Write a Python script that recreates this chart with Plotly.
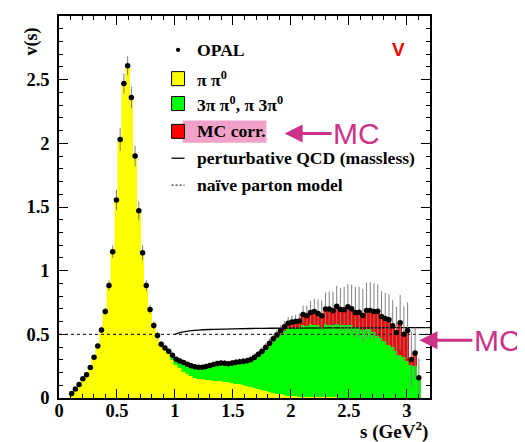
import numpy as np
import plotly.graph_objects as go

# ---------------- data ----------------
bin_start = 0.109   # first bin centre, GeV^2
bin_width = 0.0322  # GeV^2

opal_v = [0.036, 0.070, 0.107, 0.151, 0.182, 0.240, 0.320, 0.409, 0.534, 0.680,
          0.883, 1.148, 1.555, 2.03, 2.47, 2.61, 2.36, 1.90, 1.47, 1.14,
          0.883, 0.695, 0.570, 0.490, 0.422, 0.393, 0.367, 0.336, 0.305, 0.291,
          0.278, 0.265, 0.253, 0.246, 0.241, 0.241, 0.247, 0.255, 0.263, 0.270,
          0.275, 0.272, 0.268, 0.275, 0.281, 0.285, 0.289, 0.293, 0.303, 0.320,
          0.343, 0.368, 0.398, 0.430, 0.465, 0.497, 0.530, 0.560, 0.588, 0.597,
          0.600, 0.604, 0.656, 0.646, 0.672, 0.680, 0.664, 0.646, 0.698, 0.698,
          0.685, 0.721, 0.695, 0.693, 0.716, 0.700, 0.672, 0.674, 0.648, 0.688,
          0.688, 0.680, 0.682, 0.641, 0.625, 0.615, 0.568, 0.515, 0.590, 0.500,
          0.531, 0.302, 0.354, 0.160]

opal_err = [0.010, 0.010, 0.012, 0.012, 0.014, 0.015, 0.017, 0.020, 0.025, 0.030,
            0.040, 0.050, 0.080, 0.090, 0.080, 0.075, 0.085, 0.080, 0.075, 0.060,
            0.045, 0.035, 0.030, 0.030, 0.025, 0.025, 0.022, 0.022, 0.020, 0.020,
            0.020, 0.020, 0.020, 0.020, 0.020, 0.020, 0.021, 0.021, 0.022, 0.022,
            0.023, 0.023, 0.024, 0.024, 0.025, 0.025, 0.026, 0.027, 0.028, 0.030,
            0.030, 0.032, 0.034, 0.036, 0.038, 0.040, 0.042, 0.045, 0.048, 0.050,
            0.055, 0.060, 0.070, 0.080, 0.090, 0.100, 0.110, 0.120, 0.130, 0.140,
            0.150, 0.160, 0.170, 0.180, 0.180, 0.190, 0.200, 0.200, 0.210, 0.220,
            0.220, 0.220, 0.210, 0.200, 0.200, 0.200, 0.200, 0.200, 0.220, 0.220,
            0.220, 0.220, 0.200, 0.150]

pipi0_v = [0.036, 0.070, 0.107, 0.151, 0.182, 0.240, 0.320, 0.409, 0.534, 0.680,
           0.883, 1.148, 1.555, 2.03, 2.47, 2.61, 2.36, 1.90, 1.47, 1.14,
           0.883, 0.695, 0.570, 0.490, 0.422, 0.393, 0.345, 0.300, 0.262, 0.232,
           0.205, 0.185, 0.170, 0.160, 0.153, 0.148, 0.144, 0.140, 0.136, 0.133,
           0.130, 0.127, 0.123, 0.118, 0.113, 0.107, 0.100, 0.093, 0.086, 0.079,
           0.071, 0.063, 0.056, 0.049, 0.042, 0.035, 0.029, 0.024, 0.019, 0.015,
           0.012, 0.010, 0.009, 0.008, 0.007, 0.006, 0.006, 0.005, 0.005, 0.004,
           0.004, 0.004, 0.003, 0.003, 0.003, 0.003, 0.002, 0.002, 0.002, 0.002,
           0.002, 0.002, 0.002, 0.002, 0.002, 0.001, 0.001, 0.001, 0.001, 0.001,
           0.0, 0.0, 0.0, 0.0]

fourpi_v = [0.0] * 26 + [
           0.019, 0.033, 0.040, 0.055,
           0.069, 0.076, 0.079, 0.081, 0.083, 0.088, 0.096, 0.107, 0.118, 0.127,
           0.134, 0.135, 0.133, 0.144, 0.155, 0.163, 0.174, 0.184, 0.201, 0.223,
           0.254, 0.287, 0.322, 0.361, 0.403, 0.440, 0.476, 0.506, 0.531, 0.535,
           0.536, 0.540, 0.566, 0.557, 0.573, 0.569, 0.564, 0.555, 0.575, 0.571,
           0.571, 0.576, 0.572, 0.567, 0.572, 0.572, 0.553, 0.558, 0.533, 0.543,
           0.538, 0.518, 0.488, 0.468, 0.448, 0.419, 0.399, 0.369, 0.339, 0.319,
           0.290, 0.260, 0.250, 0.160]

mccorr_v = [0.0] * 26 + [
           0.003, 0.003, 0.003, 0.004,
           0.004, 0.004, 0.004, 0.005, 0.005, 0.005, 0.007, 0.008, 0.009, 0.010,
           0.011, 0.010, 0.012, 0.013, 0.013, 0.015, 0.015, 0.016, 0.016, 0.018,
           0.018, 0.018, 0.020, 0.020, 0.020, 0.022, 0.025, 0.030, 0.038, 0.047,
           0.052, 0.054, 0.081, 0.081, 0.092, 0.105, 0.094, 0.086, 0.118, 0.123,
           0.110, 0.141, 0.120, 0.123, 0.141, 0.125, 0.117, 0.114, 0.113, 0.143,
           0.148, 0.160, 0.192, 0.171, 0.175, 0.195, 0.168, 0.145, 0.250, 0.180,
           0.241, 0.042, 0.104, 0.0]

pqcd_s = [1.0, 1.05, 1.1, 1.2, 1.3, 1.5, 1.75, 2.0, 2.5, 3.0, 3.2]
pqcd_v = [0.50, 0.515, 0.524, 0.533, 0.538, 0.543, 0.547, 0.549, 0.551, 0.552, 0.552]

parton_s = [0.0, 3.2]
parton_v = [0.5, 0.5]

x_ticks = [0, 0.5, 1, 1.5, 2, 2.5, 3]
y_ticks = [0, 0.5, 1, 1.5, 2, 2.5, 3]

s_centres = bin_start + bin_width * np.arange(len(opal_v))

# ---------------- figure ----------------
OFF = 8                      # page body margin of the browser
W, H = 525 - OFF, 442 - OFF
L, T = 59 - OFF, 16 - OFF
PW, PH = 371, 382
R = W - L - PW
B = H - T - PH

def px2paper(px, py):
    """screen pixel -> paper coords"""
    return (px - OFF - L) / PW, (T + PH - (py - OFF)) / PH

SERIF = "Liberation Serif, Times New Roman, serif"
fig = go.Figure()

for vals, col in [(pipi0_v, "#ffff00"), (fourpi_v, "#00ff00"), (mccorr_v, "#ff0000")]:
    fig.add_trace(go.Bar(x=s_centres, y=vals, width=bin_width,
                         marker=dict(color=col, line=dict(color=col, width=0.5)),
                         showlegend=False, hoverinfo="skip"))

fig.add_trace(go.Scatter(x=parton_s, y=parton_v, mode="lines",
                         line=dict(color="black", width=1, dash="3px,3px"),
                         showlegend=False))
fig.add_trace(go.Scatter(x=pqcd_s, y=pqcd_v, mode="lines",
                         line=dict(color="black", width=1.3, shape="spline"),
                         showlegend=False))
fig.add_trace(go.Scatter(x=s_centres, y=opal_v, mode="markers",
                         marker=dict(color="black", size=5.5),
                         error_y=dict(type="data", array=opal_err, color="#808080",
                                      thickness=1, width=0),
                         showlegend=False))

axis_common = dict(showline=True, linecolor="black", linewidth=1.5, mirror="ticks",
                   ticks="inside", ticklen=9, tickwidth=1, tickcolor="black",
                   showgrid=False, zeroline=False,
                   tickfont=dict(family=SERIF, size=18.5, color="black", weight="bold"),
                   minor=dict(ticks="inside", ticklen=4.5, dtick=0.1, tickcolor="black",
                              tickwidth=1, showgrid=False))

fig.update_xaxes(range=[0, 3.2], tickvals=x_ticks,
                 ticktext=[f"{t:g}" for t in x_ticks], ticklabelstandoff=-5,
                 **axis_common)
fig.update_yaxes(range=[0, 3], tickvals=y_ticks,
                 ticktext=[f"{t:g}" for t in y_ticks], ticklabelstandoff=4,
                 **axis_common)

shapes = []
annotations = []

# legend (data coordinates)
leg_font = dict(family=SERIF, size=17.6, color="black", weight="bold")
bx0, bx1 = 0.971, 1.083
text_x = 1.17
rows = [2.734, 2.508, 2.3125, 2.094, 1.883, 1.672]
# pink highlight behind "MC corr."
shapes.append(dict(type="rect", xref="x", yref="y", x0=1.066, x1=1.79,
                   y0=rows[3] - 0.09, y1=rows[3] + 0.085,
                   fillcolor="#f2a2c8", line=dict(width=0), layer="above"))
# OPAL dot
shapes.append(dict(type="circle", xref="x", yref="y", x0=1.027 - 0.018, x1=1.027 + 0.018,
                   y0=rows[0] - 0.017, y1=rows[0] + 0.017, fillcolor="black",
                   line=dict(width=0), layer="above"))
for yv, col in [(rows[1], "#ffff00"), (rows[2], "#00ff00"), (rows[3], "#ff0000")]:
    shapes.append(dict(type="rect", xref="x", yref="y", x0=bx0, x1=bx1,
                       y0=yv - 0.055, y1=yv + 0.055, fillcolor=col,
                       line=dict(color="black", width=1), layer="above"))
shapes.append(dict(type="line", xref="x", yref="y", x0=bx0, x1=bx1, y0=rows[4], y1=rows[4],
                   line=dict(color="black", width=1.3), layer="above"))
shapes.append(dict(type="line", xref="x", yref="y", x0=bx0, x1=bx1, y0=rows[5], y1=rows[5],
                   line=dict(color="black", width=1, dash="2px,2px"), layer="above"))

leg_texts = ["OPAL", "π π<sup>0</sup>", "3π π<sup>0</sup>, π 3π<sup>0</sup>",
             "MC corr.", "perturbative QCD (massless)", "naïve parton model"]
for yv, txt in zip(rows, leg_texts):
    annotations.append(dict(x=text_x, y=yv, xref="x", yref="y", text=txt,
                            showarrow=False, xanchor="left", yanchor="middle",
                            font=leg_font))

# red V
annotations.append(dict(x=2.93, y=2.734, xref="x", yref="y", text="V",
                        showarrow=False,
                        font=dict(family="Liberation Sans", size=19, color="#ff0000",
                                  weight="bold")))

# MC arrows
mc_col = "#cc3388"
annotations.append(dict(x=1.946, y=2.078, xref="x", yref="y", text="MC",
                        showarrow=True, ax=72, ay=0, arrowhead=2, arrowsize=1.2,
                        arrowwidth=3, arrowcolor=mc_col, standoff=0,
                        font=dict(family="Liberation Sans", size=30, color=mc_col)))
annotations.append(dict(x=3.109, y=0.453, xref="x", yref="y", text="MC",
                        showarrow=True, ax=78, ay=0, arrowhead=2, arrowsize=1.2,
                        arrowwidth=3, arrowcolor=mc_col, standoff=0,
                        font=dict(family="Liberation Sans", size=30, color=mc_col)))

# axis titles
xp, yp = px2paper(19, 26)
annotations.append(dict(x=xp, y=yp, xref="paper", yref="paper", text="v(s)",
                        showarrow=False, textangle=-90,
                        font=dict(family=SERIF, size=18, color="black", weight="bold")))
xp, yp = px2paper(430, 416)
annotations.append(dict(x=xp, y=yp, xref="paper", yref="paper",
                        text="s (GeV<sup>2</sup>)",
                        showarrow=False, xanchor="right", yanchor="top",
                        font=dict(family=SERIF, size=19, color="black", weight="bold")))

fig.update_layout(width=W, height=H, margin=dict(l=L, r=R, t=T, b=B, autoexpand=False),
                  paper_bgcolor="white", plot_bgcolor="white",
                  barmode="stack", bargap=0, showlegend=False,
                  shapes=shapes, annotations=annotations)

fig.write_html("out.html")
